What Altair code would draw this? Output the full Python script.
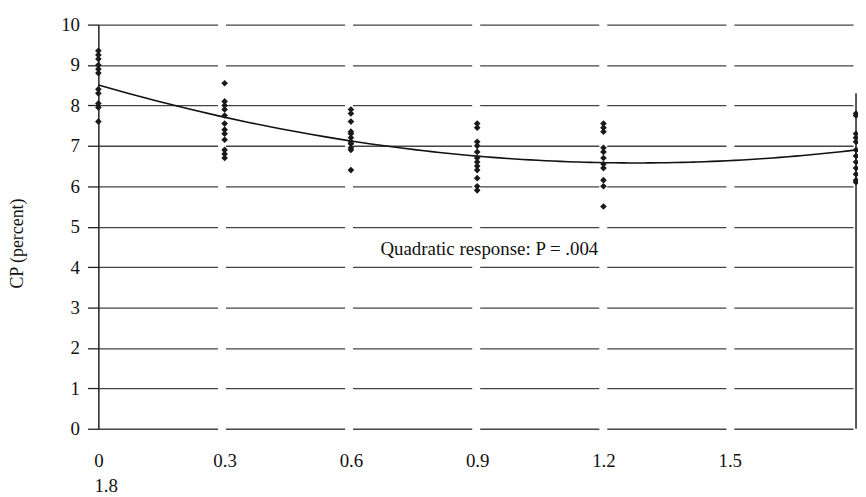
import altair as alt
import pandas as pd

# ---- data ----
dose_levels = [0, 0.3, 0.6, 0.9, 1.2, 1.8]
cp_00 = [9.35, 9.25, 9.15, 9.0, 8.9, 8.8, 8.4, 8.3, 8.05, 7.95, 7.6]
cp_03 = [8.55, 8.1, 8.0, 7.9, 7.75, 7.55, 7.4, 7.3, 7.15, 6.9, 6.8, 6.7]
cp_06 = [7.9, 7.8, 7.6, 7.35, 7.3, 7.2, 7.1, 7.05, 6.95, 6.9, 6.4]
cp_09 = [7.55, 7.45, 7.1, 7.0, 6.85, 6.7, 6.6, 6.5, 6.4, 6.2, 6.0, 5.9]
cp_12 = [7.55, 7.45, 7.35, 6.95, 6.85, 6.7, 6.55, 6.45, 6.15, 6.0, 5.5]
cp_18 = [7.8, 7.75, 7.3, 7.2, 7.1, 6.9, 6.75, 6.6, 6.45, 6.3, 6.15, 6.1]
x_ticks = [0, 0.3, 0.6, 0.9, 1.2, 1.5]
y_ticks = [0, 1, 2, 3, 4, 5, 6, 7, 8, 9, 10]
wrapped_label = ["1.8"]
wrapped_label_x = [0]
annotation = "Quadratic response: P = .004"
annot_x = [0.67]
annot_y = [4.45]
right_edge_x = [1.8]
right_edge_y = [0]
right_edge_y2 = [8.3]

groups = [cp_00, cp_03, cp_06, cp_09, cp_12, cp_18]
rows = []
for d, vals in zip(dose_levels, groups):
    for v in vals:
        rows.append({"dose": d, "cp": v})
df = pd.DataFrame(rows)

FONT = "Liberation Serif"
FS = 19
W, H = 763, 407

xscale = alt.Scale(domain=[0, 1.8], nice=False, zero=False)
yscale = alt.Scale(domain=[0, 10], nice=False)

x_axis = alt.Axis(
    values=x_ticks,
    title=None,
    grid=False,
    domain=False,
    ticks=False,
    format=".1~f",
    labelFont=FONT,
    labelFontSize=FS,
    labelColor="#111",
    labelPadding=23,
    labelFlush=False,
)
y_axis = alt.Axis(
    values=y_ticks,
    title="CP (percent)",
    titleFont=FONT,
    titleFontSize=18,
    titleFontWeight="normal",
    titleColor="#111",
    titleX=-72,
    titleY=220,
    grid=True,
    gridColor="#444",
    gridWidth=1.3,
    gridDash=[120, 8],
    domain=True,
    domainColor="#222",
    domainWidth=1.5,
    ticks=True,
    tickSize=11,
    tickColor="#222",
    tickWidth=1.3,
    labelFont=FONT,
    labelFontSize=FS,
    labelColor="#111",
    labelPadding=8,
    format="d",
)

base = alt.Chart(df)

points = base.mark_point(filled=True, shape="diamond", size=45, color="#1a1a1a", opacity=1).encode(
    x=alt.X("dose:Q", scale=xscale, axis=x_axis),
    y=alt.Y("cp:Q", scale=yscale, axis=y_axis),
)

curve = base.transform_regression(
    "dose", "cp", method="poly", order=2, extent=[0, 1.8]
).mark_line(color="#111", strokeWidth=1.6).encode(
    x=alt.X("dose:Q", scale=xscale),
    y=alt.Y("cp:Q", scale=yscale),
)

edge_df = pd.DataFrame({"x": right_edge_x, "y": right_edge_y, "y2": right_edge_y2})
edge = alt.Chart(edge_df).mark_rule(color="#222", strokeWidth=1.5).encode(
    x=alt.X("x:Q", scale=xscale),
    y=alt.Y("y:Q", scale=yscale),
    y2="y2:Q",
)

text_df = pd.DataFrame({"x": annot_x, "y": annot_y, "t": [annotation]})
text = alt.Chart(text_df).mark_text(
    font=FONT, fontSize=FS, align="left", baseline="middle", color="#111"
).encode(
    x=alt.X("x:Q", scale=xscale),
    y=alt.Y("y:Q", scale=yscale),
    text="t:N",
)

wrap_df = pd.DataFrame({"x": wrapped_label_x, "t": wrapped_label})
wrap = alt.Chart(wrap_df).mark_text(
    font=FONT, fontSize=FS, align="left", baseline="middle", color="#111", dx=-4
).encode(
    x=alt.X("x:Q", scale=xscale),
    y=alt.value(H + 58),
    text="t:N",
)

chart = (
    alt.layer(edge, curve, points, text, wrap)
    .properties(
        width=W,
        height=H,
        autosize=alt.AutoSizeParams(type="none"),
        padding={"left": 91, "top": 15, "right": 2, "bottom": 66},
        background="white",
    )
    .configure_view(stroke=None, clip=False)
)

chart.save("out.html", embed_options={"renderer": "svg", "actions": False})
